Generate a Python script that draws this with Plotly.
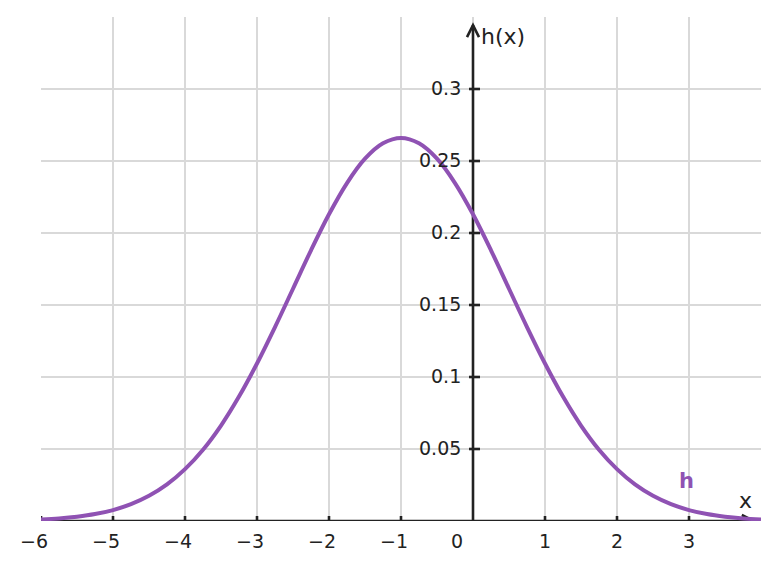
import plotly.graph_objects as go

# curve samples
x_vals = [-6, -5.75, -5.5, -5.25, -5, -4.75, -4.5, -4.25, -4, -3.75, -3.5, -3.25, -3,
          -2.75, -2.5, -2.25, -2, -1.75, -1.5, -1.25, -1, -0.75, -0.5, -0.25, 0,
          0.25, 0.5, 0.75, 1, 1.25, 1.5, 1.75, 2, 2.25, 2.5, 2.75, 3, 3.25, 3.5, 3.75, 4]
h_vals = [0.0010, 0.0018, 0.0030, 0.0048, 0.0076, 0.0117, 0.0175, 0.0254, 0.0360, 0.0495,
          0.0663, 0.0864, 0.1094, 0.1347, 0.1613, 0.1880, 0.2130, 0.2347, 0.2516, 0.2623,
          0.2660, 0.2623, 0.2516, 0.2347, 0.2130, 0.1880, 0.1613, 0.1347, 0.1094, 0.0864,
          0.0663, 0.0495, 0.0360, 0.0254, 0.0175, 0.0117, 0.0076, 0.0048, 0.0030, 0.0018, 0.0010]

x_ticks = [-6, -5, -4, -3, -2, -1, 0, 1, 2, 3]
x_tick_text = ["\u22126", "\u22125", "\u22124", "\u22123", "\u22122", "\u22121", "0", "1", "2", "3"]
y_ticks = [0.05, 0.1, 0.15, 0.2, 0.25, 0.3]
y_tick_text = ["0.05", "0.1", "0.15", "0.2", "0.25", "0.3"]

X_RANGE = [-6, 4]
Y_RANGE = [0, 0.35]
Y_TIP = 0.3444
X_TIP = 3.9

PURPLE = "#8f52b3"
INK = "#222222"
GRID = "#d9d9d9"
FONT = "DejaVu Sans"

fig = go.Figure()
fig.add_trace(go.Scatter(x=x_vals, y=h_vals, mode="lines",
                         line=dict(color=PURPLE, width=4, shape="spline", smoothing=1),
                         hoverinfo="skip", cliponaxis=True))

shapes = []
# axes lines
shapes.append(dict(type="line", xref="x", yref="y", x0=X_RANGE[0], x1=X_TIP, y0=0, y1=0,
                   line=dict(color=INK, width=2.6), layer="between"))
shapes.append(dict(type="line", xref="x", yref="y", x0=0, x1=0, y0=0, y1=Y_TIP,
                   line=dict(color=INK, width=2.6), layer="between"))
# arrow heads
shapes.append(dict(type="path", xref="x", yref="y", xsizemode="pixel", ysizemode="pixel",
                   xanchor=0, yanchor=Y_TIP, path="M -6,-12 L 0,0 L 6,-12",
                   line=dict(color=INK, width=2.6), layer="between"))
shapes.append(dict(type="path", xref="x", yref="y", xsizemode="pixel", ysizemode="pixel",
                   xanchor=X_TIP, yanchor=0, path="M -12,6 L 0,0 L -12,-6",
                   line=dict(color=INK, width=2.6), layer="between"))
# tick marks
for xv in x_ticks:
    if xv == 0:
        continue
    shapes.append(dict(type="line", xref="x", yref="y", xsizemode="pixel", ysizemode="pixel",
                       xanchor=xv, yanchor=0, x0=0, x1=0, y0=0, y1=5,
                       line=dict(color=INK, width=2.6), layer="between"))
for yv in y_ticks:
    shapes.append(dict(type="line", xref="x", yref="y", xsizemode="pixel", ysizemode="pixel",
                       xanchor=0, yanchor=yv, x0=-4, x1=7, y0=0, y1=0,
                       line=dict(color=INK, width=2.6), layer="between"))

annotations = []
for xv, txt in zip(x_ticks, x_tick_text):
    shift = -16 if xv == 0 else (-7 if xv < 0 else 0)
    annotations.append(dict(x=xv, y=0, xref="x", yref="y", text=txt, showarrow=False,
                            xanchor="center", yanchor="middle", xshift=shift, yshift=-20,
                            font=dict(family=FONT, size=19, color=INK)))
for yv, txt in zip(y_ticks, y_tick_text):
    annotations.append(dict(x=0, y=yv, xref="x", yref="y", text=txt, showarrow=False,
                            xanchor="right", yanchor="middle", xshift=-10, yshift=1,
                            font=dict(family=FONT, size=19, color=INK)))
annotations.append(dict(x=0, y=Y_TIP, xref="x", yref="y", text="h(x)", showarrow=False,
                        xanchor="left", yanchor="middle", xshift=6, yshift=-11,
                        font=dict(family=FONT, size=22, color=INK)))
annotations.append(dict(x=3.79, y=0.0139, xref="x", yref="y", text="x", showarrow=False,
                        xanchor="center", yanchor="middle",
                        font=dict(family=FONT, size=22, color=INK)))
annotations.append(dict(x=2.97, y=0.0278, xref="x", yref="y", text="<b>h</b>", showarrow=False,
                        xanchor="center", yanchor="middle",
                        font=dict(family=FONT, size=21, color=PURPLE)))

fig.update_layout(
    width=779, height=570,
    margin=dict(l=41, r=18, t=17, b=49),
    paper_bgcolor="white", plot_bgcolor="white",
    showlegend=False,
    xaxis=dict(range=X_RANGE, tickvals=x_ticks, showticklabels=False, ticks="",
               showgrid=True, gridcolor=GRID, gridwidth=2, zeroline=False, showline=False,
               fixedrange=True),
    yaxis=dict(range=Y_RANGE, tickvals=y_ticks, showticklabels=False, ticks="",
               showgrid=True, gridcolor=GRID, gridwidth=2, zeroline=False, showline=False,
               fixedrange=True),
    shapes=shapes,
    annotations=annotations,
)

fig.write_html("out.html")
